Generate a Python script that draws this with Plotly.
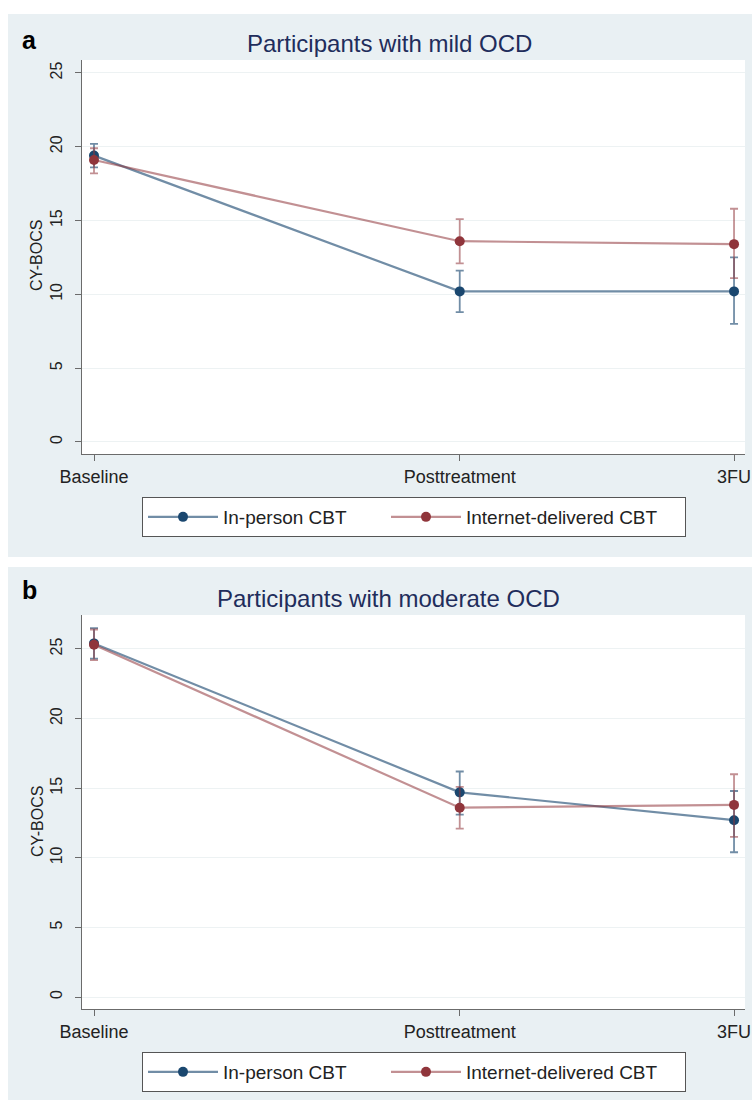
import plotly.graph_objects as go

# ---- data ----
timepoint_weeks = [0, 16, 28]
timepoint_labels = ["Baseline", "Posttreatment", "3FU"]
y_ticks = [0, 5, 10, 15, 20, 25]

# Panel a: mild OCD
mild_inperson_mean = [19.4, 10.2, 10.2]
mild_inperson_upper = [20.2, 11.6, 12.5]
mild_inperson_lower = [18.6, 8.8, 8.0]
mild_internet_mean = [19.1, 13.6, 13.4]
mild_internet_upper = [19.9, 15.1, 15.8]
mild_internet_lower = [18.2, 12.1, 11.1]

# Panel b: moderate OCD
mod_inperson_mean = [25.4, 14.7, 12.7]
mod_inperson_upper = [26.5, 16.2, 14.8]
mod_inperson_lower = [24.3, 13.1, 10.4]
mod_internet_mean = [25.3, 13.6, 13.8]
mod_internet_upper = [26.4, 15.1, 16.0]
mod_internet_lower = [24.2, 12.1, 11.5]

series_names = ["In-person CBT", "Internet-delivered CBT"]

# ---- styling ----
W, H = 752, 1107
BLUE = "#1a476f"
RED = "#90353b"
BLUE_L = "rgba(26,71,111,0.62)"
RED_L = "rgba(144,53,59,0.55)"
PANEL_BG = "#e9f0f3"
FONT = "Liberation Sans Narrow, Liberation Sans, Arial, sans-serif"


def px_x(p):
    return p / W


def px_y(p):
    return 1 - p / H


fig = go.Figure()


def add_series(mean, upper, lower, name, color, lcolor, xa, ya, legend, lw):
    fig.add_trace(go.Scatter(
        x=timepoint_weeks, y=mean, name=name, mode="lines+markers",
        xaxis=xa, yaxis=ya, legend=legend, showlegend=True,
        legendwidth=lw,
        line=dict(color=lcolor, width=2.2),
        marker=dict(color=color, size=10),
        error_y=dict(type="data", symmetric=False,
                     array=[u - m for u, m in zip(upper, mean)],
                     arrayminus=[m - l for m, l in zip(mean, lower)],
                     color=lcolor, thickness=1.8, width=4),
    ))


add_series(mild_inperson_mean, mild_inperson_upper, mild_inperson_lower,
           series_names[0], BLUE, BLUE_L, "x", "y", "legend", 158)
add_series(mild_internet_mean, mild_internet_upper, mild_internet_lower,
           series_names[1], RED, RED_L, "x", "y", "legend", 214)
add_series(mod_inperson_mean, mod_inperson_upper, mod_inperson_lower,
           series_names[0], BLUE, BLUE_L, "x2", "y2", "legend2", 158)
add_series(mod_internet_mean, mod_internet_upper, mod_internet_lower,
           series_names[1], RED, RED_L, "x2", "y2", "legend2", 214)

xaxis_common = dict(
    range=[-0.525, 28.48], tickvals=timepoint_weeks, ticktext=timepoint_labels,
    showgrid=False, zeroline=False, showline=True, linecolor="#6b6b6b", linewidth=1.3,
    ticks="outside", ticklen=6, tickcolor="#6b6b6b", automargin=False,
    tickfont=dict(family=FONT, size=18, color="#222"), fixedrange=True,
)
yaxis_common = dict(
    tickvals=y_ticks, showgrid=True, gridcolor="#edf2f3", gridwidth=1.2,
    zeroline=False, showline=True, linecolor="#6b6b6b", linewidth=1.3,
    ticks="outside", ticklen=6, tickcolor="#6b6b6b", tickangle=-90,
    ticklabelstandoff=6, automargin=False,
    tickfont=dict(family=FONT, size=16, color="#222"), fixedrange=True,
)

legend_common = dict(
    orientation="h", xanchor="left", yanchor="top",
    bgcolor="white", bordercolor="#555", borderwidth=1,
    font=dict(family=FONT, size=19, color="#222"),
    itemwidth=70, itemclick=False, itemdoubleclick=False,
)

fig.update_layout(
    width=W, height=H, margin=dict(l=0, r=0, t=0, b=0, autoexpand=False),
    paper_bgcolor=PANEL_BG, plot_bgcolor="white",
    xaxis=dict(domain=[px_x(82), px_x(745)], anchor="y", **xaxis_common),
    yaxis=dict(domain=[px_y(454), px_y(60)], anchor="x", range=[-0.82, 25.88], **yaxis_common),
    xaxis2=dict(domain=[px_x(82), px_x(745)], anchor="y2", **xaxis_common),
    yaxis2=dict(domain=[px_y(1009), px_y(615)], anchor="x2", range=[-0.86, 27.44], **yaxis_common),
    legend=dict(x=px_x(142), y=px_y(497), **legend_common),
    legend2=dict(x=px_x(142), y=px_y(1052), **legend_common),
    showlegend=True,
)

# white gaps around / between the two panels
gaps = [
    (0, 0, W, 14),        # top strip
    (0, 557, W, 567),     # between panels
    (0, 1100, W, H),      # bottom strip
    (0, 0, 8, H),         # left strip
]
for x0, y0, x1, y1 in gaps:
    fig.add_shape(type="rect", xref="paper", yref="paper",
                  x0=px_x(x0), x1=px_x(x1), y0=px_y(y1), y1=px_y(y0),
                  fillcolor="white", line=dict(width=0), layer="below")

annots = [
    dict(text="<b>a</b>", x=px_x(20), y=px_y(40), size=25, color="black", family="Liberation Sans, Arial"),
    dict(text="<b>b</b>", x=px_x(20), y=px_y(590), size=25, color="black", family="Liberation Sans, Arial"),
    dict(text="Participants with mild OCD", x=px_x(390), y=px_y(44), size=24, color="#1f2d5c", family=FONT),
    dict(text="Participants with moderate OCD", x=px_x(388), y=px_y(598), size=24, color="#1f2d5c", family=FONT),
]
for a in annots:
    fig.add_annotation(text=a["text"], x=a["x"], y=a["y"], xref="paper", yref="paper",
                       xanchor="left" if len(a["text"]) < 10 else "center",
                       yanchor="middle", showarrow=False,
                       font=dict(family=a["family"], size=a["size"], color=a["color"]))

for yc in [256, 822]:
    fig.add_annotation(text="CY-BOCS", x=px_x(37), y=px_y(yc), xref="paper", yref="paper",
                       textangle=-90, showarrow=False, xanchor="center", yanchor="middle",
                       font=dict(family=FONT, size=16, color="#222"))

fig.write_html("out.html", config={"displayModeBar": False},
               post_script="document.body.style.margin='0px';")
